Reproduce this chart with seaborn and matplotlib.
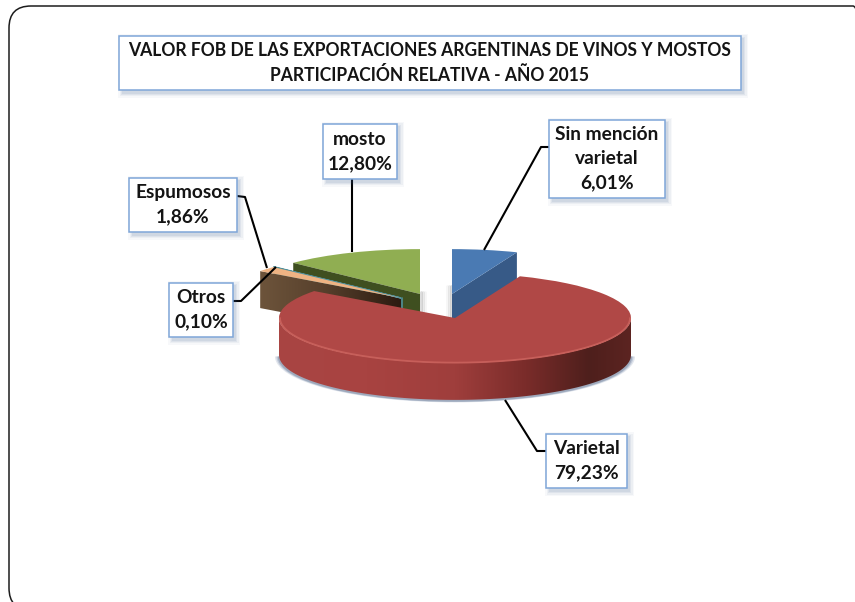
import numpy as np
import matplotlib
matplotlib.use("Agg")
import matplotlib.pyplot as plt
import seaborn as sns
from matplotlib.patches import Polygon, Rectangle, Wedge, FancyBboxPatch
from matplotlib.colors import LinearSegmentedColormap
from matplotlib.transforms import IdentityTransform

# ---- data ----
title_text = "VALOR FOB DE LAS EXPORTACIONES ARGENTINAS DE VINOS Y MOSTOS\nPARTICIPACIÓN RELATIVA - AÑO 2015"
categories = ["Sin mención\nvarietal", "Varietal", "Espumosos", "Otros", "mosto"]
values = [6.01, 79.23, 1.86, 0.10, 12.80]

# ---- styles ----
top_colors = ["#4a7ab3", "#b04846", "#eeb383", "#4f97a8", "#90ae52"]
side_colors = ["#375a87", None, None, "#4f8f9a", "#3f4f20"]

sns.set_theme(style="white")
plt.rcParams["font.family"] = ["Lato", "DejaVu Sans"]

W, H = 855, 602
K = 0.255      # vertical squash of the tilted pie
RADIUS = 176
fig = plt.figure(figsize=(W / 100, H / 100), dpi=100, facecolor="white")
ax = fig.add_axes([0, 0, 1, 1])


def P(px, py):
    return px, (H - py) / K


# layout of each exploded slice (pixel position of apex) and extrusion depth
apex = [(452, 294), (455, 318), (401, 298), (401, 298), (420, 294)]
depth = [27, 37, 37, 27, 27]
z_top = [6, 9, 5, 4.5, 3]

wedges, _ = ax.pie(values, startangle=90, counterclock=False, radius=RADIUS,
                   colors=top_colors, center=P(*apex[1]))
for w, a, z in zip(wedges, apex, z_top):
    w.set_center(P(*a))
    w.set_zorder(z)
    w.set_linewidth(0)
wedges[3].set_edgecolor("#4f8f9a")
wedges[3].set_linewidth(1.0)

ax.set_aspect("auto")
ax.set_xlim(0, W)
ax.set_ylim(0, H / K)
ax.axis("off")

# slice boundaries (degrees): th_hi is where a slice begins going clockwise, th_lo where it ends
cum = np.cumsum([0] + values) * 3.6
th_hi = 90 - cum[:-1]
th_lo = 90 - cum[1:]


def rim(i, deg, drop=0):
    t = np.radians(deg)
    ax_, ay_ = apex[i]
    return (ax_ + RADIUS * np.cos(t), ay_ - RADIUS * K * np.sin(t) + drop)


def cut_face(i, deg):
    ax_, ay_ = apex[i]
    d = depth[i]
    pts = [rim(i, deg), (ax_, ay_), (ax_, ay_ + d), rim(i, deg, d)]
    return [P(*p) for p in pts]


def gradient(path_pts, stops, x0, x1, y0, y1, z):
    patch = Polygon(path_pts, closed=True, fc="none", ec="none", zorder=z)
    ax.add_patch(patch)
    cmap = LinearSegmentedColormap.from_list("g", stops)
    im = ax.imshow(np.linspace(0, 1, 256)[None, :], extent=(x0, x1, P(0, y1)[1], P(0, y0)[1]),
                   aspect="auto", cmap=cmap, zorder=z, interpolation="bilinear")
    im.set_clip_path(patch)


# mosto cut face
ax.add_patch(Polygon(cut_face(4, th_hi[4]), closed=True, fc=side_colors[4], ec="none", zorder=3.2))
# otros cut face
ax.add_patch(Polygon(cut_face(3, th_hi[3]), closed=True, fc=side_colors[3], ec="none", zorder=3.5))
# espumosos cut face (brown gradient)
brown = cut_face(2, th_hi[2])
gradient(brown, [(0, "#6d543b"), (0.45, "#57402c"), (1, "#2c1b11")], brown[0][0], brown[1][0], 250, 345, 4)
# sin mención cut face
ax.add_patch(Polygon(cut_face(0, th_lo[0]), closed=True, fc=side_colors[0], ec="none", zorder=5.5))
ax.plot(*zip(P(apex[3][0] + 1, apex[3][1]), P(apex[3][0] + 1, apex[3][1] + depth[3])),
        color="#4f8f9a", lw=1.2, zorder=4.8)

# soft cast shadows next to the central gap
for off, alpha in [(1, .28), (3, .16), (5, .07)]:
    ax.plot(*zip(P(apex[4][0] + off, apex[4][1] - 2), P(apex[4][0] + off, apex[4][1] + depth[4])),
            color="#808080", alpha=alpha, lw=2, zorder=2.5)
    ax.plot(*zip(P(apex[0][0] - off, apex[0][1] - 8), P(apex[0][0] - off, apex[0][1] + depth[0])),
            color="#808080", alpha=alpha, lw=2, zorder=2.5)

# Varietal outer wall + halo
cx, cy = apex[1]
d = depth[1]
ts = np.radians(np.linspace(180, 360, 200))
upper = [(cx + RADIUS * np.cos(t), cy - RADIUS * K * np.sin(t)) for t in ts]
lower = [(cx + RADIUS * np.cos(t), cy + d - RADIUS * K * np.sin(t)) for t in ts[::-1]]
wall = [P(*p) for p in upper + lower]
gradient(wall, [(0, "#a94543"), (0.25, "#a84341"), (0.5, "#9f3e3c"), (0.7, "#7a2c2a"),
                (0.88, "#4e1f1c"), (1, "#5c2421")],
         cx - RADIUS, cx + RADIUS, cy, cy + d + 60, 8)
for grow, col, a in [(4, "#9fadc4", .30), (2.5, "#9fadc4", .50), (1.2, "#8c99ae", .65)]:
    ax.add_patch(Wedge(P(cx, cy + d + 1.5), RADIUS + grow, 180, 360, fc=col, ec="none",
                       alpha=a, zorder=7.5))

# bevel highlight along the front rim of Varietal
hl = [P(cx + (RADIUS - 1) * np.cos(t), cy - (RADIUS - 1) * K * np.sin(t)) for t in ts]
xs, ys = zip(*hl)
ax.plot(xs, ys, color="#c75f5a", lw=1.3, zorder=9.5, solid_capstyle="round")


def box(x0, y0, x1, y1, text, size=13.8):
    for grow, a in [(5, .04), (3.5, .06), (2, .08), (1, .09)]:
        ax.add_patch(Rectangle(P(x0 + 2 - grow + 2, y1 + 3 + grow), x1 - x0 + 2 * grow - 2,
                               (y1 - y0 + 2 * grow) / K,
                               fc="#3f5f8f", ec="none", alpha=a, zorder=19))
    ax.add_patch(Rectangle(P(x0, y1), x1 - x0, (y1 - y0) / K, fc="white", ec="#7fa6d8", lw=1.1, zorder=20))
    ax.text(*P((x0 + x1) / 2, (y0 + y1) / 2), text, ha="center", va="center", fontsize=size,
            fontweight="bold", color="#141414", linespacing=1.5, zorder=21)


def leader(*pts):
    xs, ys = zip(*[P(*p) for p in pts])
    ax.plot(xs, ys, color="black", lw=1.5, zorder=15, solid_capstyle="butt")


def lab(i):
    return categories[i] + "\n" + f"{values[i]:.2f}".replace(".", ",") + "%"


box(119, 36, 741, 90, title_text, size=12.65)
box(549, 120, 665, 198, lab(0))
box(546, 434, 627, 488, lab(1))
box(129, 178, 237, 232, lab(2))
box(169, 283, 233, 337, lab(3))
box(323, 124, 397, 179, lab(4))

leader((549, 147), (541, 147), (484, 250))
leader((546, 451), (537, 451), (505, 400))
leader((237, 196), (245, 197), (267, 268))
leader((233, 301), (241, 301), (276, 267))
leader((352, 179), (352, 252))

# rounded slide outline running off the right and bottom of the picture
fig.add_artist(FancyBboxPatch((9, -8), 866, H - 6 + 8, boxstyle="round,pad=0,rounding_size=22",
                              transform=IdentityTransform(), fc="none", ec="#1c1c1c", lw=1.1))

fig.savefig("out.png", dpi=100, facecolor="white")
